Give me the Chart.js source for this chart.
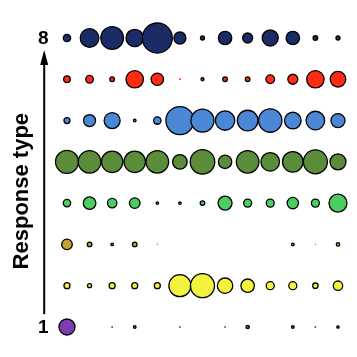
<!DOCTYPE html>
<html>
<head>
<meta charset="utf-8">
<script src="https://cdn.jsdelivr.net/npm/chart.js@4/dist/chart.umd.min.js"></script>
<style>
  html, body { margin: 0; padding: 0; background: #fff; }
  #wrap { width: 357px; height: 357px; }
</style>
</head>
<body>
<div id="wrap"><canvas id="c" width="357" height="357"></canvas></div>
<script>
// ---- data ----
const columns = [1, 2, 3, 4, 5, 6, 7, 8, 9, 10, 11, 12, 13];
const responseTypes = [1, 2, 3, 4, 5, 6, 7, 8];
const yTickValues = [1, 8];
const yTickLabels = ['1', '8'];
const axisTitle = 'Response type';

// bubble radii per response type, one per column
const type1 = [8, 0, 1, 1.3, 0, 1, 0, 1, 1.7, 0, 1.3, 1, 1.2];
const type2 = [3, 2, 3, 3, 3, 11, 12, 7.7, 6.7, 4, 4, 2.7, 4.7];
const type3 = [5.3, 2.3, 1.3, 2.3, 0.8, 0, 0, 0, 0, 0, 1.3, 0.8, 1.7];
const type4 = [3.7, 6.3, 4.7, 5.3, 1.3, 1.3, 2.3, 7, 4, 4, 5.7, 4, 9];
const type5 = [11.5, 11.3, 10.7, 10.7, 11.3, 7.3, 12.3, 6.7, 11.3, 9.3, 10.3, 12, 8];
const type6 = [3, 6, 8, 1.3, 3.7, 14, 11.5, 9.7, 10.3, 11.7, 8.3, 9.3, 7];
const type7 = [3.3, 3.8, 2.3, 8.7, 6.2, 1, 1.5, 2.3, 2.3, 4.3, 5, 8.7, 7.8];
const type8 = [3.7, 9.3, 11.3, 8.7, 15, 6, 2, 6.7, 5, 8, 6.7, 2.3, 2];

const seriesValues = [type1, type2, type3, type4, type5, type6, type7, type8];
const colours = ['#7b3db0', '#f3f33f', '#c7a032', '#4ccd62', '#5b8c3a', '#4a88d6', '#ff2b12', '#1b2b66'];

const datasets = responseTypes.map((t, i) => ({
  label: 'Type ' + t,
  data: columns.map((c, j) => ({ x: c, y: t, r: seriesValues[i][j] })),
  backgroundColor: colours[i],
  borderColor: '#000',
  borderWidth: (ctx) => {
    const r = ctx.raw ? ctx.raw.r : 0;
    return r <= 1 ? 0 : 1.3;
  },
  clip: false
}));

const tickFont = 'bold 19px "Liberation Sans", Arial, sans-serif';

const arrowPlugin = {
  id: 'arrowAxis',
  afterDatasetsDraw(chart) {
    const ys = chart.scales.y;
    const ctx = chart.ctx;
    const x = chart.chartArea.left - 0.2;
    const yBottom = ys.getPixelForValue(1.31);
    const yTip = ys.getPixelForValue(7.71);
    const headLen = 15, headHalf = 4;
    ctx.save();
    ctx.strokeStyle = '#000';
    ctx.fillStyle = '#000';
    ctx.lineWidth = 2;
    ctx.beginPath();
    ctx.moveTo(x, yBottom);
    ctx.lineTo(x, yTip + headLen - 1);
    ctx.stroke();
    ctx.beginPath();
    ctx.moveTo(x, yTip);
    ctx.lineTo(x - headHalf, yTip + headLen);
    ctx.lineTo(x + headHalf, yTip + headLen);
    ctx.closePath();
    ctx.fill();
    // end labels of the axis
    ctx.font = tickFont;
    ctx.textAlign = 'center';
    ctx.textBaseline = 'middle';
    yTickValues.forEach((v, k) => {
      ctx.fillText(yTickLabels[k], x - 1, ys.getPixelForValue(v) + 1);
    });
    ctx.restore();
  }
};

new Chart(document.getElementById('c'), {
  type: 'bubble',
  data: { datasets },
  options: {
    responsive: false,
    animation: false,
    events: [],
    layout: { autoPadding: false, padding: { left: 0, right: 6.6, top: 25.6, bottom: 0.3 } },
    plugins: { legend: { display: false }, tooltip: { enabled: false } },
    scales: {
      x: {
        type: 'linear',
        display: false,
        min: 0,
        max: 13.55
      },
      y: {
        type: 'linear',
        min: 0.28,
        max: 8.3,
        afterFit(scale) { scale.width = 44.4; },
        grid: { display: false, drawTicks: false },
        border: { display: false },
        ticks: { display: false },
        title: {
          display: true,
          text: axisTitle,
          color: '#000',
          padding: { top: 9, bottom: 0 },
          font: { family: 'Liberation Sans, Arial, sans-serif', size: 22, weight: 'bold' }
        }
      }
    }
  },
  plugins: [arrowPlugin]
});
</script>
</body>
</html>
